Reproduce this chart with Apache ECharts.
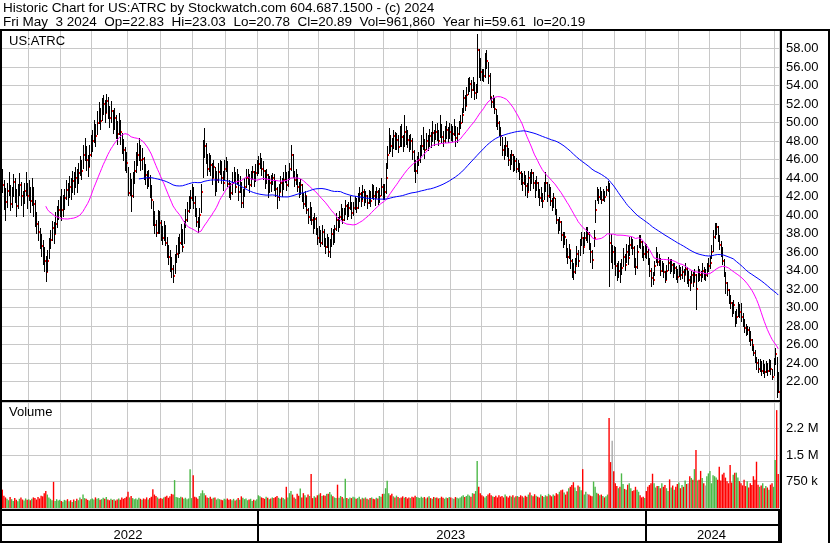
<!DOCTYPE html>
<html><head><meta charset="utf-8">
<script src="https://cdn.jsdelivr.net/npm/echarts/dist/echarts.min.js"></script>
<style>html,body{margin:0;padding:0;background:#fff}#c{width:830px;height:543px}</style>
</head><body><div id="c"></div>
<script>
// trading months: [year-month, number of trading days shown]
const monthTable = [
 ['2022-05',18],['2022-06',21],['2022-07',20],['2022-08',23],['2022-09',21],['2022-10',21],['2022-11',21],['2022-12',21],
 ['2023-01',20],['2023-02',19],['2023-03',23],['2023-04',19],['2023-05',22],['2023-06',21],['2023-07',20],['2023-08',23],
 ['2023-09',20],['2023-10',22],['2023-11',21],['2023-12',20],
 ['2024-01',21],['2024-02',20],['2024-03',20],['2024-04',22],['2024-05',3]
];
const closes = [
 44.9,43.2,42.0,41.4,42.6,43.1,41.2,42.0,43.6,42.3,41.0,42.5,43.2,42.1,41.3,42.6,43.4,42.0,
 42.5,41.5,42.8,41.2,40.0,39.0,38.2,37.5,36.7,35.9,35.0,33.8,35.0,36.5,37.3,38.6,38.0,39.0,39.7,40.5,40.9,
 40.5,41.0,41.8,42.7,42.0,43.0,42.5,43.7,43.2,44.0,43.5,44.5,45.5,44.8,46.5,47.0,46.0,45.2,46.5,47.5,
 48.0,49.0,48.5,50.0,51.0,50.2,51.5,52.0,51.0,52.3,51.5,50.5,51.2,49.8,50.5,49.5,48.8,50.0,49.0,47.5,47.0,46.0,45.6,
 42.4,43.5,42.0,43.5,44.8,45.5,46.5,47.0,46.0,46.1,44.8,44.3,43.5,44.0,42.8,41.6,40.0,38.9,38.1,39.2,39.1,
 38.3,37.5,38.7,37.0,36.4,35.5,34.8,34.2,33.4,35.0,35.8,36.4,37.0,38.0,36.5,38.7,39.5,40.4,41.0,41.8,42.9,
 41.3,40.5,39.2,38.7,40.0,42.5,46.5,47.5,46.3,45.0,45.8,45.4,44.0,45.2,42.7,43.8,44.6,45.4,44.0,43.5,45.0,
 45.6,43.4,42.8,42.4,43.5,44.5,43.0,44.2,42.5,43.4,41.3,42.0,43.0,44.0,44.1,43.2,44.0,44.6,43.8,44.5,45.0,
 45.5,46.1,45.0,44.8,43.5,44.3,42.7,43.5,43.4,44.0,43.5,42.8,41.9,42.5,43.5,42.8,43.8,44.5,43.2,44.0,
 45.0,46.5,44.5,43.8,44.2,43.0,42.5,43.2,42.0,41.2,42.0,40.5,39.8,40.8,39.5,38.8,39.6,38.5,37.5,
 38.0,37.0,38.2,37.2,36.5,37.5,36.0,36.8,38.0,37.2,38.5,39.5,38.8,39.8,40.5,39.5,40.2,41.0,40.0,40.8,41.3,40.2,40.8,
 41.5,40.8,41.8,42.3,41.5,42.5,41.7,42.0,41.3,42.2,41.5,42.8,42.0,41.8,42.5,41.6,42.1,43.0,42.0,
 42.5,44.0,46.5,48.1,47.5,47.2,48.5,47.8,48.1,47.3,48.8,48.4,47.5,49.0,48.5,48.1,47.5,48.0,46.8,45.5,44.8,45.5,
 46.0,46.8,47.5,47.8,47.0,48.0,47.7,48.5,48.0,48.9,48.2,49.0,48.8,48.0,49.5,48.4,48.0,48.8,49.2,48.5,49.0,
 48.8,48.8,49.5,48.3,48.8,49.5,50.0,50.8,52.6,51.8,53.0,54.0,54.2,53.5,54.3,53.2,53.5,57.8,56.8,55.5,
 55.3,55.0,56.5,56.7,55.0,52.8,52.2,52.5,51.5,50.5,50.0,49.3,48.5,47.0,46.5,47.5,47.0,46.0,45.5,46.5,45.2,45.8,45.0,
 45.5,44.5,44.0,43.5,44.2,43.1,42.5,44.0,43.5,44.5,43.5,42.8,43.5,42.5,41.8,42.2,41.5,42.8,43.5,42.0,
 42.8,41.5,41.0,41.8,40.5,39.5,38.5,39.2,37.8,37.0,37.6,36.0,35.5,36.2,35.0,34.0,33.8,34.5,35.8,35.0,36.8,37.5,
 36.5,37.5,38.0,38.0,36.8,36.0,35.1,37.5,40.5,42.5,41.9,42.5,41.6,42.3,41.9,42.7,43.3,37.0,36.0,36.0,35.7,
 34.5,33.5,34.0,33.8,34.3,35.5,34.6,36.0,35.4,36.8,37.2,36.4,34.8,34.4,36.0,37.5,37.1,36.2,35.8,36.3,
 36.0,35.1,34.0,33.2,33.0,34.5,35.8,34.9,35.2,34.0,34.5,33.8,33.0,34.0,34.8,34.2,34.6,33.9,34.3,33.8,33.3,
 34.0,33.5,33.8,33.5,34.2,33.0,33.0,32.6,33.5,32.8,33.5,32.0,33.7,33.5,33.3,34.0,33.5,33.5,34.0,34.5,
 34.8,36.0,37.6,38.2,38.7,37.5,36.8,36.2,35.0,33.7,32.6,31.9,31.0,30.5,29.7,30.3,28.3,29.0,30.2,29.5,
 29.0,28.5,27.8,27.5,27.6,27.0,26.5,26.0,25.1,24.5,24.0,23.3,23.8,23.1,23.5,23.0,23.6,23.1,23.8,23.3,22.5,24.1,
 25.0,22.3,20.89
];
const highs = [
 45.6,45.0,43.8,42.9,43.5,44.6,43.2,43.0,44.4,44.0,42.8,43.4,44.5,43.6,42.6,43.5,44.6,43.5,
 43.8,43.0,44.0,43.0,41.6,40.3,39.4,38.6,38.0,37.3,36.5,35.6,36.2,37.5,38.4,39.4,39.2,40.3,41.0,41.6,42.0,
 42.8,42.2,42.8,43.8,43.5,44.2,44.0,44.8,44.6,45.2,45.0,45.6,46.4,46.0,47.6,48.3,47.5,46.5,47.6,48.6,
 49.2,50.3,49.8,51.2,52.2,51.6,52.6,53.0,52.4,53.1,52.8,51.8,52.3,51.4,51.6,50.8,50.2,51.0,50.3,48.9,48.2,47.4,46.8,
 45.2,44.5,43.9,44.6,45.8,46.8,47.8,48.3,47.6,47.2,46.3,45.5,44.8,44.9,44.3,43.2,41.5,40.4,39.5,40.5,40.4,
 39.5,38.8,39.4,38.9,37.6,36.8,36.2,35.5,34.6,35.8,36.8,37.6,38.0,39.0,38.5,39.4,40.6,41.4,42.0,42.7,43.4,
 43.0,42.0,40.8,39.8,40.8,43.4,48.1,49.4,47.8,46.6,46.7,46.5,45.6,46.0,45.2,44.8,45.6,46.0,45.8,44.8,45.9,
 46.3,45.8,43.8,43.5,44.6,45.2,44.6,45.0,44.4,44.2,43.6,42.8,44.0,45.0,45.0,44.4,44.8,45.3,44.8,45.5,46.0,
 46.4,46.7,46.2,45.8,44.9,45.0,44.4,44.2,44.3,44.5,44.4,43.8,43.0,43.4,44.2,44.0,44.6,45.4,44.6,44.8,
 45.6,47.6,46.6,44.8,45.0,44.4,43.6,43.9,43.4,42.4,42.6,42.0,40.8,41.4,40.9,39.8,40.2,39.8,38.6,
 38.8,38.4,38.9,38.5,37.5,38.0,37.6,37.4,38.6,38.5,38.9,40.2,39.8,40.4,41.2,40.8,40.8,41.6,41.2,41.4,42.0,41.4,41.4,
 42.0,41.8,42.4,43.0,42.5,43.2,42.8,42.6,42.2,42.7,42.6,43.4,43.2,42.6,43.0,42.7,42.9,44.0,43.4,
 43.3,45.6,47.5,49.4,48.6,48.3,49.2,49.0,48.9,48.6,49.6,49.8,48.7,50.8,49.6,49.2,48.6,48.8,48.3,47.0,45.9,46.4,
 46.8,47.6,48.6,49.5,48.2,48.9,48.6,49.3,49.0,50.2,49.2,49.8,50.0,49.2,50.8,49.8,49.1,49.6,50.2,49.5,49.9,
 49.8,49.6,50.4,49.6,49.5,50.2,50.8,51.6,53.5,53.0,53.8,54.8,54.9,54.6,54.9,54.4,54.2,59.6,58.0,57.0,
 55.8,55.8,57.5,57.8,56.5,55.3,52.8,53.0,52.6,51.5,50.8,50.2,49.5,48.4,47.6,48.4,48.0,47.2,46.6,47.0,46.6,46.4,46.2,
 46.0,45.6,44.8,44.5,44.8,44.3,43.5,44.8,44.6,45.0,44.6,43.8,44.2,43.6,42.8,43.0,42.4,43.6,44.6,43.6,
 43.4,43.0,41.8,42.4,41.8,40.6,39.6,39.8,39.4,38.2,38.2,37.4,36.4,36.9,36.2,35.2,34.8,35.4,36.6,36.2,37.4,38.2,
 37.6,38.2,38.7,38.7,38.2,37.0,36.2,38.4,41.6,43.0,42.8,43.0,42.6,42.8,42.6,43.1,43.7,43.5,38.0,36.8,36.6,
 36.5,34.8,35.0,34.8,35.2,36.4,35.8,36.9,36.8,37.6,37.6,37.4,36.6,35.4,36.8,37.8,37.8,37.2,36.6,37.0,
 36.9,36.3,35.4,34.3,33.8,35.0,36.5,36.0,35.8,35.3,35.0,34.8,34.0,34.6,35.5,35.2,35.2,34.8,34.8,34.5,34.2,
 34.6,34.4,34.5,34.2,34.8,34.4,33.9,33.4,34.0,33.8,34.2,33.6,34.5,34.2,34.0,34.8,34.4,34.2,34.8,35.4,
 35.6,36.8,38.4,39.1,39.1,38.8,37.8,37.2,36.5,35.2,33.8,32.8,32.0,31.4,30.6,30.8,29.6,29.8,30.6,30.4,
 30.5,29.4,28.8,28.2,28.0,27.9,27.5,26.6,25.8,25.4,24.6,24.4,24.4,24.2,24.3,23.9,24.2,24.0,24.4,24.3,23.4,24.5,
 25.6,24.6,23.03
];
const lows = [
 43.5,42.4,40.5,39.4,40.8,42.0,40.4,40.8,41.9,41.3,39.8,40.6,42.0,41.0,39.8,41.2,42.0,40.7,
 41.5,40.2,41.0,39.8,38.7,37.9,37.2,36.3,35.5,34.6,33.8,32.8,33.8,35.2,36.3,37.2,36.9,38.0,38.6,39.5,39.8,
 39.4,39.8,40.5,41.6,41.0,41.8,41.6,42.4,42.2,42.9,42.4,43.4,44.2,43.8,45.0,45.8,44.8,44.1,45.2,46.3,
 46.8,47.8,47.4,48.6,49.8,49.2,50.2,50.8,50.0,51.0,50.4,49.4,50.0,48.8,49.2,48.2,47.6,48.6,47.6,46.6,45.8,44.8,44.5,
 42.0,42.0,40.3,41.8,43.4,44.5,45.3,45.8,44.8,44.9,43.8,43.2,42.8,43.0,41.8,40.6,38.8,37.9,37.6,38.0,38.0,
 37.2,36.8,37.2,36.6,35.4,34.6,33.8,33.2,32.6,33.6,34.8,35.4,35.8,36.8,36.0,36.9,38.6,39.2,40.2,40.6,41.5,
 40.6,39.8,38.7,38.1,38.6,40.2,44.0,46.2,45.5,44.2,44.6,44.2,43.2,44.0,42.1,42.5,43.5,44.3,43.4,42.6,43.8,
 44.6,43.0,41.8,41.6,42.2,43.6,42.4,43.2,41.5,42.4,40.8,40.8,41.9,42.9,43.2,42.4,43.0,43.8,43.0,43.6,44.2,
 44.4,45.0,44.2,43.8,42.8,43.4,41.8,42.4,42.5,43.2,42.6,41.9,40.6,41.5,42.5,41.9,42.7,43.5,42.6,43.0,
 43.8,44.8,44.0,43.0,43.2,42.5,41.8,42.2,41.4,40.6,40.9,40.1,39.0,39.4,38.9,38.0,38.5,37.8,36.8,
 37.0,36.5,36.8,36.5,35.8,36.4,35.5,35.3,36.5,36.8,37.0,38.3,38.2,38.6,39.5,39.0,39.4,40.0,39.5,39.8,40.5,39.6,39.9,
 40.5,40.2,40.6,41.4,40.9,41.6,41.0,41.3,40.7,41.2,40.9,41.7,41.6,41.0,41.8,41.1,41.3,42.0,41.6,
 41.6,42.3,45.0,46.6,46.8,46.3,47.1,47.0,47.0,46.7,47.4,47.3,46.8,47.4,47.6,47.2,46.8,47.0,46.0,44.6,43.5,44.4,
 45.3,45.6,46.4,47.0,46.1,47.0,46.9,47.4,47.2,47.9,47.5,48.1,48.0,47.5,48.3,47.8,47.4,47.8,48.2,47.8,48.2,
 48.0,47.9,48.5,47.4,47.8,48.6,49.3,49.9,51.0,51.2,51.8,53.0,53.3,52.6,53.4,52.4,52.5,53.2,54.8,54.5,
 54.5,54.4,54.8,55.8,54.2,52.4,51.6,51.6,50.9,49.5,49.2,48.5,47.5,46.4,46.0,46.4,46.3,45.3,44.9,45.4,44.6,44.8,44.5,
 44.6,43.8,43.2,42.6,43.2,42.0,41.8,42.6,42.6,43.4,42.8,41.8,42.6,41.8,41.0,41.4,40.8,41.6,42.5,41.4,
 41.8,41.0,40.4,40.8,40.0,39.0,37.9,38.3,37.2,36.4,36.8,35.4,34.7,35.2,34.2,33.2,33.0,33.6,34.6,34.4,35.6,36.6,
 35.8,36.6,37.2,37.0,36.2,34.8,34.2,36.5,39.1,41.5,41.2,41.6,41.2,41.5,41.4,42.0,42.5,32.2,34.8,34.2,34.6,
 33.4,32.9,33.2,32.6,33.5,34.4,34.0,34.8,34.6,35.6,36.3,35.7,34.3,33.5,34.2,36.4,36.3,35.4,35.0,35.4,
 35.2,34.6,33.3,32.2,32.4,33.4,34.8,34.5,34.5,33.4,33.8,33.2,32.6,33.0,33.9,33.6,33.8,33.2,33.6,33.0,32.6,
 33.3,33.0,33.1,32.8,33.5,32.5,32.2,31.8,32.6,32.2,32.8,29.7,32.8,32.9,32.8,33.2,33.0,32.9,33.3,33.8,
 34.2,35.2,36.0,37.4,37.8,37.1,36.2,35.5,34.6,33.3,31.5,31.2,30.4,29.8,29.0,29.3,27.9,28.2,29.0,28.9,
 28.4,27.9,27.2,26.9,27.0,26.3,25.8,25.3,24.8,24.0,23.2,22.9,23.0,22.6,22.8,22.4,22.9,22.6,23.0,22.7,22.2,22.6,
 23.8,20.19,20.78
];
// daily volume, thousands of shares
const volumes = [
 480,520,350,300,260,220,310,250,200,280,230,190,260,300,240,210,270,230,
 250,220,260,300,280,240,310,270,350,330,420,480,380,300,260,220,740,200,250,210,230,
 200,180,230,210,250,190,220,170,240,200,260,220,300,250,380,280,260,230,210,250,
 270,240,300,260,280,230,250,290,260,310,240,220,260,230,250,210,240,270,230,300,260,280,320,
 460,300,340,280,250,270,240,290,260,230,270,250,300,240,280,320,530,380,340,300,260,
 280,260,300,320,350,290,330,400,380,790,310,300,280,320,300,260,290,250,270,1100,280,
 930,320,300,260,340,420,500,420,360,300,280,320,260,290,300,240,270,250,230,220,260,
 240,270,230,250,220,260,210,240,280,230,330,290,250,270,220,240,260,200,230,210,250,
 360,330,300,280,260,320,290,250,270,300,280,310,340,290,260,300,280,250,600,300,
 420,480,380,300,260,400,350,550,300,420,360,300,380,340,960,280,330,300,360,
 380,420,340,360,350,400,400,450,380,330,300,280,660,290,340,310,270,830,280,260,300,280,320,
 300,260,280,320,250,290,270,300,260,240,280,300,260,250,290,270,340,320,400,
 400,560,770,420,360,400,330,300,350,310,280,300,330,290,310,270,300,280,320,300,350,310,
 300,280,320,290,310,270,300,330,280,260,310,290,300,270,280,320,290,260,300,280,310,
 300,280,260,310,290,270,300,330,360,310,340,380,350,320,420,400,480,1330,600,420,
 360,330,300,340,380,420,360,330,310,350,300,360,320,340,300,380,330,300,350,320,360,300,330,
 340,310,360,330,300,350,320,380,440,360,330,390,350,320,300,380,340,310,360,330,
 400,360,330,380,350,420,390,460,500,520,440,380,470,560,600,650,730,580,480,640,600,500,
 1100,380,460,400,380,350,330,750,600,430,400,360,380,340,300,330,380,2550,1300,1900,1040,
 700,620,560,600,980,680,540,520,660,700,560,480,500,600,520,460,360,300,320,280,
 480,600,650,700,970,700,580,620,620,560,700,600,650,560,480,810,580,640,520,600,680,
 720,560,650,600,780,680,700,900,850,800,1100,1640,780,800,1050,850,700,640,900,980,
 1050,700,930,900,860,800,1170,780,950,1000,860,760,700,1220,720,940,1000,1000,860,760,
 700,640,800,620,760,580,700,650,900,800,1310,660,600,640,700,560,620,580,520,660,700,600,
 1360,2770,962
];
const priceTicks = {min:20, max:60, step:2};
const volTickLabels = {750:'750 k', 1500:'1.5 M', 2250:'2.2 M'};
const titleLine1 = 'Historic Chart for US:ATRC by Stockwatch.com 604.687.1500 - (c) 2024';
const titleLine2 = 'Fri May  3 2024  Op=22.83  Hi=23.03  Lo=20.78  Cl=20.89  Vol=961,860  Year hi=59.61  lo=20.19';
const symbolLabel = 'US:ATRC';
const maPeriods = [30, 90];

// ---- build categories / markers from the month table ----
const dates = [], monthStart = new Set(), yearStart = new Set(), yearMid = new Set();
{
  let idx = 0, curYear = null; const yr = {};
  monthTable.forEach(([ym, n]) => {
    if (idx > 0) monthStart.add(idx);
    const y = ym.slice(0, 4);
    if (y !== curYear) { if (curYear !== null) yearStart.add(idx); curYear = y; yr[y] = [idx, idx]; }
    for (let d = 1; d <= n; d++) { dates.push(ym + '-' + String(d).padStart(2, '0')); idx++; }
    yr[y][1] = idx - 1;
  });
  Object.values(yr).forEach(([a, b]) => yearMid.add(Math.floor((a + b) / 2)));
}
function sma(arr, n) {
  return arr.map((_, i) => {
    if (i < n - 1) return null;
    let s = 0; for (let k = i - n + 1; k <= i; k++) s += arr[k];
    return +(s / n).toFixed(3);
  });
}
const FONT = '"Liberation Sans", Arial, sans-serif';
const GRIDC = '#c8c8c8';
const ohlcData = closes.map((c, i) => [i, highs[i], lows[i], c]);
const volData = volumes.map((v, i) => {
  const d = i === 0 ? -1 : closes[i] - closes[i - 1];
  return { value: v, itemStyle: { color: d > 0 ? '#4cb848' : (d < 0 ? '#ff0000' : '#a9a9a9') } };
});

const baseX = (gi) => ({
  type: 'category', gridIndex: gi, data: dates, boundaryGap: true,
  axisLine: { show: false }, axisTick: { show: false }, axisLabel: { show: false },
  splitLine: { show: false }
});
const xAxes = [baseX(0), baseX(1), baseX(2), baseX(3)];
xAxes[0].splitLine = { show: true, interval: (i) => monthStart.has(i), lineStyle: { color: GRIDC, width: 1 } };
xAxes[1].splitLine = { show: true, interval: (i) => monthStart.has(i), lineStyle: { color: GRIDC, width: 1 } };
xAxes[2].splitLine = { show: true, interval: (i) => yearStart.has(i), lineStyle: { color: '#000', width: 2 } };
xAxes[3].splitLine = { show: true, interval: (i) => yearStart.has(i), lineStyle: { color: '#000', width: 2 } };
xAxes[2].axisLabel = { show: true, interval: (i) => yearMid.has(i), formatter: (v) => v.slice(0, 4),
  color: '#000', fontSize: 13, fontFamily: FONT, margin: 4 };

const option = {
  animation: false,
  backgroundColor: '#fff',
  grid: [
    { left: 0, top: 30, width: 779, height: 370 },
    { left: 0, top: 402, width: 779, height: 106 },
    { left: 0, top: 511, width: 779, height: 14 },
    { left: 0, top: 526, width: 779, height: 15 }
  ],
  xAxis: xAxes,
  yAxis: [
    { type: 'value', gridIndex: 0, position: 'right', min: priceTicks.min, max: priceTicks.max, interval: priceTicks.step,
      axisLine: { show: false }, axisTick: { show: false },
      splitLine: { lineStyle: { color: GRIDC, width: 1 } },
      axisLabel: { color: '#000', fontSize: 13, fontFamily: FONT, margin: 7,
        formatter: (v) => (v <= priceTicks.min || v >= priceTicks.max) ? '' : v.toFixed(2) } },
    { type: 'value', gridIndex: 1, position: 'right', min: 0, max: 3000, interval: 750,
      axisLine: { show: false }, axisTick: { show: false },
      splitLine: { lineStyle: { color: GRIDC, width: 1 } },
      axisLabel: { color: '#000', fontSize: 13, fontFamily: FONT, margin: 7,
        formatter: (v) => volTickLabels[v] || '' } },
    { type: 'value', gridIndex: 2, show: false },
    { type: 'value', gridIndex: 3, show: false }
  ],
  series: [
    { type: 'custom', name: 'ohlc', xAxisIndex: 0, yAxisIndex: 0, data: ohlcData,
      encode: { x: 0, y: [1, 2, 3] }, z: 3,
      renderItem: (params, api) => {
        const i = api.value(0);
        const h = api.coord([i, api.value(1)]);
        const l = api.coord([i, api.value(2)]);
        const c = api.coord([i, api.value(3)]);
        const x = Math.round(h[0]);
        return { type: 'group', children: [
          { type: 'rect', shape: { x: x, y: Math.round(h[1]), width: 1, height: Math.max(1, Math.round(l[1]) - Math.round(h[1])) },
            style: { fill: '#000' } },
          { type: 'rect', shape: { x: x + 1, y: Math.round(c[1]) - 1, width: 1, height: 2 }, style: { fill: '#ff0000' } }
        ] };
      } },
    { type: 'line', name: 'MA30', xAxisIndex: 0, yAxisIndex: 0, data: sma(closes, maPeriods[0]),
      showSymbol: false, symbol: 'none', lineStyle: { color: '#ff00ff', width: 1 }, itemStyle: { color: '#ff00ff' }, z: 4 },
    { type: 'line', name: 'MA90', xAxisIndex: 0, yAxisIndex: 0, data: sma(closes, maPeriods[1]),
      showSymbol: false, symbol: 'none', lineStyle: { color: '#0000ff', width: 1 }, itemStyle: { color: '#0000ff' }, z: 4 },
    { type: 'bar', name: 'Volume', xAxisIndex: 1, yAxisIndex: 1, data: volData, barCategoryGap: '10%', z: 3 }
  ],
  graphic: [
    { type: 'text', left: 3, top: 1, style: { text: titleLine1, font: '13.5px ' + FONT, fill: '#000' } },
    { type: 'text', left: 3, top: 15, style: { text: titleLine2, font: '13.5px ' + FONT, fill: '#000' } },
    { type: 'text', left: 9, top: 35, style: { text: symbolLabel, font: '13px ' + FONT, fill: '#000' }, z: 50 },
    { type: 'text', left: 9, top: 406, style: { text: 'Volume', font: '13px ' + FONT, fill: '#000' }, z: 50 },
    { type: 'rect', shape: { x: 0, y: 29, width: 830, height: 2 }, style: { fill: '#000' }, z: 100 },
    { type: 'rect', shape: { x: 0, y: 29, width: 2, height: 514 }, style: { fill: '#000' }, z: 100 },
    { type: 'rect', shape: { x: 780, y: 29, width: 2, height: 514 }, style: { fill: '#000' }, z: 100 },
    { type: 'rect', shape: { x: 828, y: 29, width: 2, height: 514 }, style: { fill: '#000' }, z: 100 },
    { type: 'rect', shape: { x: 0, y: 400, width: 782, height: 2 }, style: { fill: '#000' }, z: 100 },
    { type: 'rect', shape: { x: 0, y: 509, width: 782, height: 2 }, style: { fill: '#000' }, z: 100 },
    { type: 'rect', shape: { x: 0, y: 524, width: 782, height: 2 }, style: { fill: '#000' }, z: 100 },
    { type: 'rect', shape: { x: 0, y: 541, width: 782, height: 2 }, style: { fill: '#000' }, z: 100 }
  ]
};
const chart = echarts.init(document.getElementById('c'), null, { renderer: 'canvas', width: 830, height: 543 });
chart.setOption(option);
</script>
</body></html>
